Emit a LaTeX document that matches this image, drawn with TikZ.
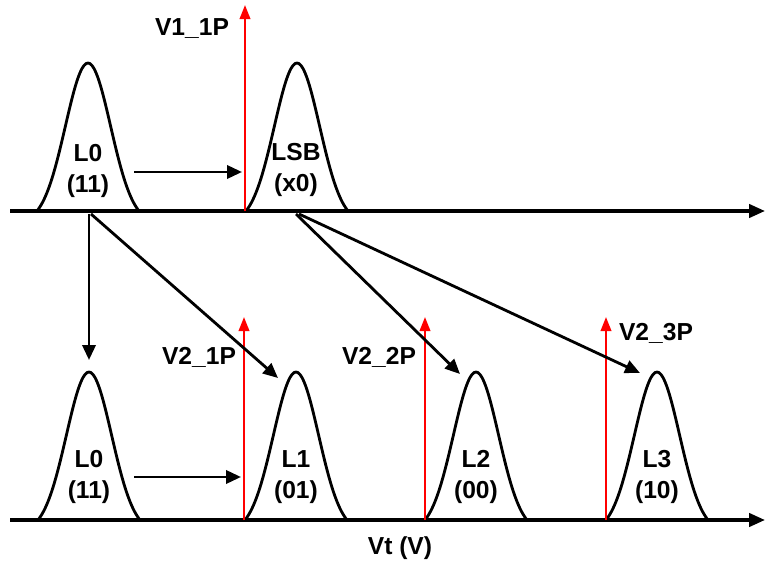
\documentclass[tikz,border=0pt]{standalone}
\usepackage{fontspec}
\setmainfont{Liberation Sans}
\usetikzlibrary{arrows.meta}

\tikzset{
  axis/.style={line width=1.9pt,-{Triangle[length=9pt,width=7.5pt]}},
  move/.style={line width=1.6pt,-{Triangle[length=8.5pt,width=7.5pt]}},
  sense/.style={red,line width=1.2pt,-{Triangle[length=8pt,width=6pt]}},
  lvl/.style={font=\bfseries\fontsize{14}{17.5}\selectfont,align=center},
  vlbl/.style={font=\bfseries\fontsize{14}{17}\selectfont},
  hump/.pic={\draw[line width=1.6pt] plot[domain=-51:51,samples=51,smooth]
    (\x,{-148*(exp(((\x)*(\x))/(-1024))-0.079)/0.921});}
}

\begin{document}
\begin{tikzpicture}[x=0.02cm,y=-0.02cm]
  \useasboundingbox (0,0) rectangle (765,565);

  % axes
  \coordinate (ta) at (10,211);
  \coordinate (tb) at (765,211);
  \coordinate (ba) at (10,520);
  \coordinate (bb) at (765,520);
  \draw[axis] (ta) -- (tb);
  \draw[axis] (ba) -- (bb);

  % distributions
  \coordinate (t0) at (88,211);
  \coordinate (t1) at (297,211);
  \coordinate (b0) at (89,520);
  \coordinate (b1) at (296,520);
  \coordinate (b2) at (476,520);
  \coordinate (b3) at (657,520);
  \pic at (t0) {hump};
  \pic at (t1) {hump};
  \pic at (b0) {hump};
  \pic at (b1) {hump};
  \pic at (b2) {hump};
  \pic at (b3) {hump};

  \node[lvl] (lt0) at (88,171) {L0\\(11)};
  \node[lvl] (lt1) at (296,170) {LSB\\(x0)};
  \node[lvl] (lb0) at (89,477) {L0\\(11)};
  \node[lvl] (lb1) at (296,477) {L1\\(01)};
  \node[lvl] (lb2) at (476,477) {L2\\(00)};
  \node[lvl] (lb3) at (657,477) {L3\\(10)};

  % read voltages
  \coordinate (v11a) at (245,211);
  \coordinate (v11b) at (245,5);
  \coordinate (v21a) at (244,520);
  \coordinate (v21b) at (244,317);
  \coordinate (v22a) at (425,520);
  \coordinate (v22b) at (425,317);
  \coordinate (v23a) at (606,520);
  \coordinate (v23b) at (606,317);
  \draw[sense] (v11a) -- (v11b);
  \draw[sense] (v21a) -- (v21b);
  \draw[sense] (v22a) -- (v22b);
  \draw[sense] (v23a) -- (v23b);

  \node[vlbl] (n11) at (192,29) {V1\_1P};
  \node[vlbl] (n21) at (199,357) {V2\_1P};
  \node[vlbl] (n22) at (379,357) {V2\_2P};
  \node[vlbl] (n23) at (656,333) {V2\_3P};

  % programming moves
  \coordinate (m1) at (134,172);
  \coordinate (m2) at (242,172);
  \coordinate (m3) at (134,477);
  \coordinate (m4) at (241,477);
  \coordinate (s0) at (89,214);
  \coordinate (s1) at (91,214);
  \coordinate (s2) at (296,214);
  \coordinate (s3) at (299,214);
  \coordinate (e0) at (89,360);
  \coordinate (e1) at (278,378);
  \coordinate (e2) at (460,374);
  \coordinate (e3) at (640,373);
  \draw[move] (m1) -- (m2);
  \draw[move] (m3) -- (m4);
  \draw[move] (s0) -- (e0);
  \draw[move] (s1) -- (e1);
  \draw[move] (s2) -- (e2);
  \draw[move] (s3) -- (e3);

  \node[vlbl] (vt) at (400,548) {Vt (V)};
\end{tikzpicture}
\end{document}
